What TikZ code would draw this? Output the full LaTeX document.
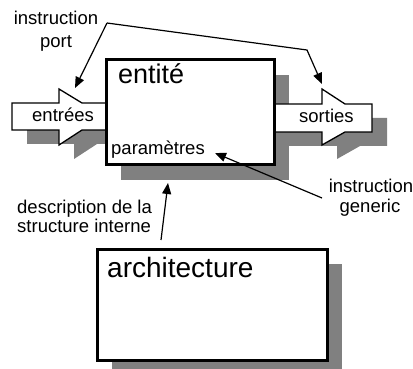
\documentclass[tikz,border=0pt]{standalone}
\usepackage{fontspec}
\setmainfont{Liberation Sans}
\usetikzlibrary{arrows.meta}
\definecolor{shade}{HTML}{808080}
\tikzset{
  shadowfill/.style={fill=shade, draw=none},
  portshape/.style={fill=white, draw=black, line width=1.3pt, line join=miter},
  bigbox/.style={fill=white, draw=black, line width=3pt},
  lbl/.style={inner sep=0pt, font=\fontsize{18.5}{22}\selectfont},
  title/.style={inner sep=0pt, font=\fontsize{27}{30}\selectfont},
  pointer/.style={draw=black, line width=1.2pt, -{Triangle[length=11pt,width=9pt]}},
}
\begin{document}
\begin{tikzpicture}[x=1pt,y=-1pt]
\useasboundingbox (0,0) rectangle (413,369);
\clip (0,0) rectangle (413,369);
% shadows
\fill[shadowfill] (27,117) -- (74,117) -- (74,103) -- (97,117) -- (121,117) -- (121,144) -- (97,144) -- (74,159) -- (74,144) -- (27,144) -- cycle;
\fill[shadowfill] (289,118) -- (337,118) -- (337,103) -- (360,118) -- (387,118) -- (387,146) -- (360,146) -- (337,159) -- (337,146) -- (289,146) -- cycle;
\fill[shadowfill] (121,75) rectangle (289,180);
\fill[shadowfill] (112,264) rectangle (342,375);
% port arrows
\draw[portshape] (12,103) -- (59,103) -- (59,89) -- (82,103) -- (106,103) -- (106,130) -- (82,130) -- (59,145) -- (59,130) -- (12,130) -- cycle;
\draw[portshape] (274,104) -- (322,104) -- (322,89) -- (345,104) -- (372,104) -- (372,132) -- (345,132) -- (322,145) -- (322,132) -- (274,132) -- cycle;
% boxes
\draw[bigbox] (106,60) rectangle (274,165);
\draw[bigbox] (97,249) rectangle (327,360);
% texts
\node[title, anchor=base west] (ent) at (118,84) {entité};
\node[title, anchor=base west, font=\fontsize{28}{30}\selectfont] (arch) at (107,277) {architecture};
\node[lbl, anchor=base west] (in) at (32,122) {entrées};
\node[lbl, anchor=base west] (out) at (299,123) {sorties};
\node[lbl, anchor=base west] (par) at (111,154) {paramètres};
\node[lbl, anchor=base] (ip1) at (56,25) {instruction};
\node[lbl, anchor=base] (ip2) at (56,48) {port};
\node[lbl, anchor=base] (ig1) at (371,193) {instruction};
\node[lbl, anchor=base] (ig2) at (370,212) {generic};
\node[lbl, anchor=base west] (d1) at (17,213) {description de la};
\node[lbl, anchor=base west] (d2) at (17,233) {structure interne};
% connectors
\coordinate (pstart) at (107,23);
\coordinate (pbend) at (307,50);
\coordinate (ptipin) at (75,88);
\coordinate (ptipout) at (322,84);
\coordinate (gstart) at (322,198);
\coordinate (gtip) at (215,153);
\coordinate (dstart) at (161,240);
\coordinate (dtip) at (168,183);
\draw[pointer] (pstart) -- (ptipin);
\draw[pointer] (pstart) -- (pbend) -- (ptipout);
\draw[pointer] (gstart) -- (gtip);
\draw[pointer] (dstart) -- (dtip);
\end{tikzpicture}
\end{document}
